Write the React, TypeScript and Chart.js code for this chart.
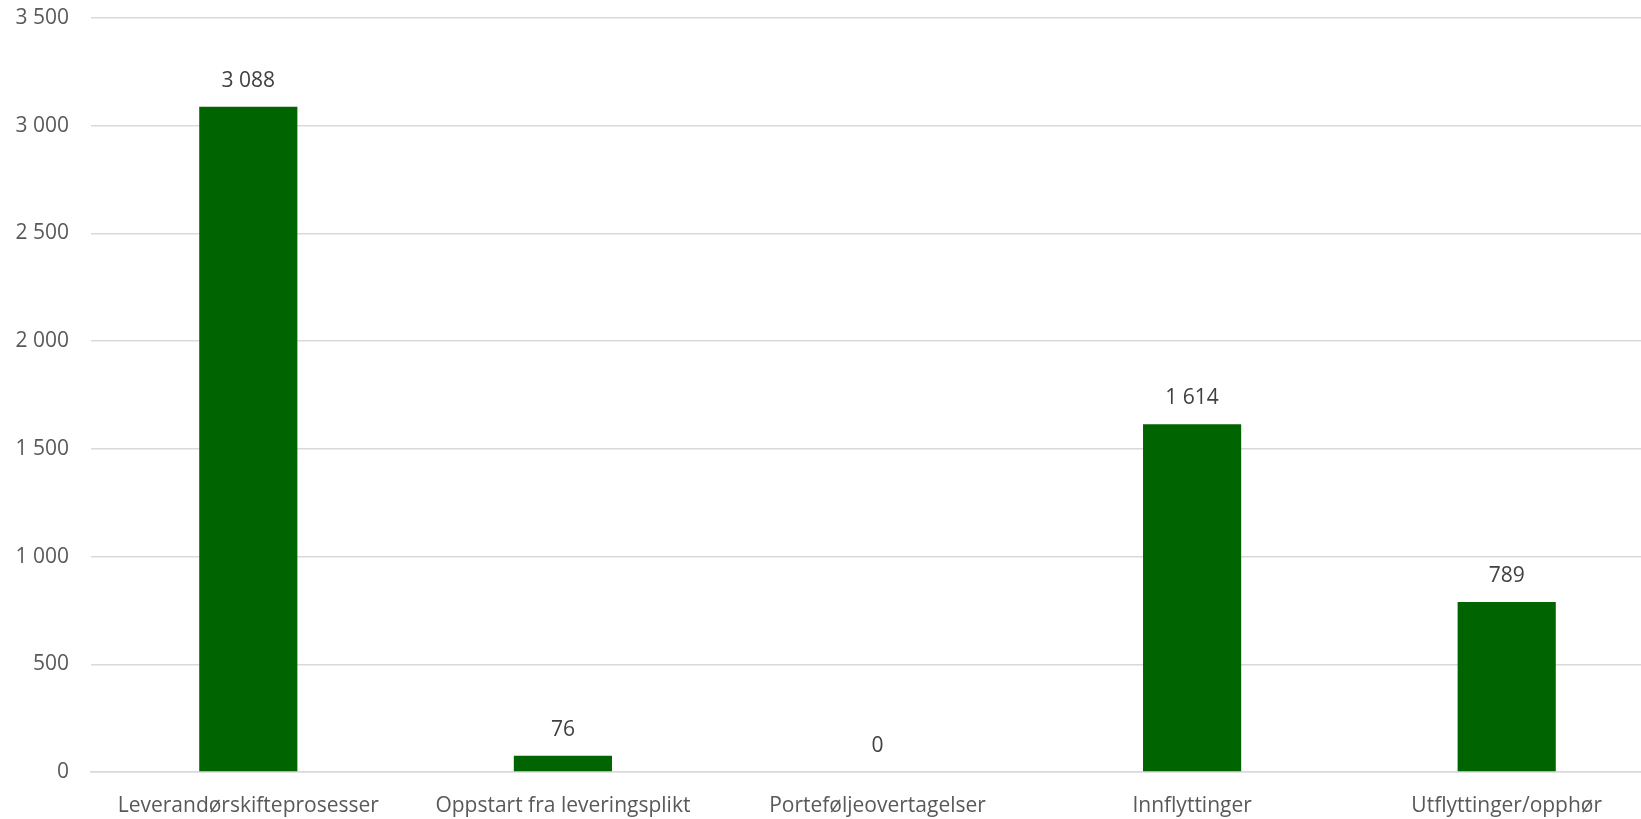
import React, { useEffect, useRef } from "react";
import { Chart, registerables } from "chart.js";

Chart.register(...registerables);

const categories = [
  "Leverandørskifteprosesser",
  "Oppstart fra leveringsplikt",
  "Porteføljeovertagelser",
  "Innflyttinger",
  "Utflyttinger/opphør",
];
const values = [3088, 76, 0, 1614, 789];
const yMin = 0;
const yMax = 3500;
const yStep = 500;

const fmt = (v: number) => String(v).replace(/\B(?=(\d{3})+(?!\d))/g, " ");

const FONT = "'Open Sans', 'Liberation Sans', sans-serif";

const dataLabels = {
  id: "dataLabels",
  afterDatasetsDraw(chart: any) {
    const ctx = chart.ctx;
    const meta = chart.getDatasetMeta(0);
    ctx.save();
    ctx.font = `21px ${FONT}`;
    ctx.fillStyle = "#404040";
    ctx.textAlign = "center";
    ctx.textBaseline = "middle";
    meta.data.forEach((el: any, i: number) => {
      ctx.fillText(fmt(values[i]), el.x, el.y - 26);
    });
    ctx.restore();
  },
};

export default function App() {
  const ref = useRef<HTMLCanvasElement | null>(null);
  useEffect(() => {
    document.body.style.margin = "0";
    document.body.style.overflow = "hidden";
    const chart = new Chart(ref.current!, {
      type: "bar",
      data: {
        labels: categories,
        datasets: [
          {
            data: values,
            backgroundColor: "#006400",
            barPercentage: 0.312,
            categoryPercentage: 1,
          },
        ],
      },
      options: {
        animation: false,
        responsive: false,
        maintainAspectRatio: false,
        layout: { padding: { top: 18, left: 0, right: 0, bottom: 0 } },
        plugins: { legend: { display: false }, tooltip: { enabled: false } },
        scales: {
          x: {
            grid: { display: false, drawTicks: false },
            border: { display: true, color: "#d9d9d9", width: 1.5 },
            ticks: {
              color: "#595959",
              font: { family: FONT, size: 21 },
              padding: 21,
              maxRotation: 0,
              autoSkip: false,
            },
            afterFit(scale: any) {
              scale.height = 47;
              scale.paddingLeft = 0;
              scale.paddingRight = 0;
            },
          },
          y: {
            min: yMin,
            max: yMax,
            grid: { color: "#d9d9d9", lineWidth: 1.5, drawTicks: false },
            border: { display: false },
            ticks: {
              stepSize: yStep,
              color: "#595959",
              font: { family: FONT, size: 21 },
              padding: 22,
              callback: (v: any) => fmt(Number(v)),
            },
            afterFit(scale: any) {
              scale.width = 91;
              scale.paddingTop = 0;
              scale.paddingBottom = 0;
            },
          },
        },
      },
      plugins: [dataLabels],
    });
    return () => chart.destroy();
  }, []);
  return (
    <div style={{ width: 1664, height: 819, overflow: "hidden" }}>
      <canvas ref={ref} width={1664} height={819} style={{ display: "block" }} />
    </div>
  );
}
